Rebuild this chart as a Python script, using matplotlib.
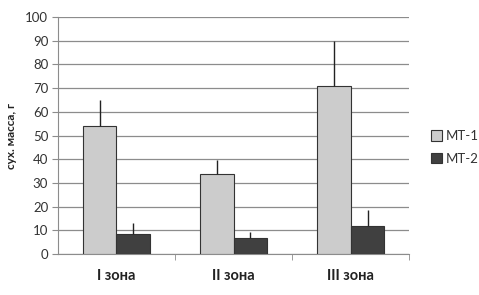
import matplotlib
matplotlib.use("Agg")
import matplotlib.pyplot as plt
import numpy as np

plt.rcParams['font.family'] = ['Lato', 'DejaVu Sans']

categories = ["I зона", "II зона", "III зона"]
series_names = ["МТ-1", "МТ-2"]
mt1 = [54.0, 33.7, 70.8]
mt1_err = [11.0, 6.0, 19.0]
mt2 = [8.4, 6.8, 11.8]
mt2_err = [4.6, 2.5, 6.8]
yticks = list(range(0, 101, 10))

fig = plt.figure(figsize=(4.79, 2.95), dpi=100)
ax = fig.add_axes([0.121, 0.139, 0.733, 0.803])

x = np.arange(len(categories))
w = 0.29
c1, c2 = "#cccccc", "#404040"
ax.bar(x - w/2, mt1, w, color=c1, edgecolor="#333333", linewidth=0.8, label=series_names[0], zorder=3)
ax.bar(x + w/2, mt2, w, color=c2, edgecolor="#333333", linewidth=0.8, label=series_names[1], zorder=3)
ax.errorbar(x - w/2, mt1, yerr=[np.zeros(3), mt1_err], fmt='none', ecolor="#222222", elinewidth=1.0, capsize=0, zorder=4)
ax.errorbar(x + w/2, mt2, yerr=[np.zeros(3), mt2_err], fmt='none', ecolor="#222222", elinewidth=1.0, capsize=0, zorder=4)

ax.set_xlim(-0.5, 2.5)
ax.set_ylim(0, 100)
ax.set_yticks(yticks)
ax.yaxis.grid(True, color="#8c8c8c", linewidth=0.9, zorder=0)
ax.set_axisbelow(True)
for s in ["top", "right"]:
    ax.spines[s].set_visible(False)
ax.spines["left"].set_color("#8c8c8c")
ax.spines["bottom"].set_color("#8c8c8c")
ax.tick_params(axis='y', length=4, color="#8c8c8c", labelsize=9.5, labelcolor="#333333", pad=3)
ax.set_xticks(x)
ax.set_xticklabels(categories, fontsize=10.5, fontweight='bold', color="#222222")
ax.tick_params(axis='x', length=0, pad=11)
ax.set_xticks([0.5, 1.5, 2.5], minor=True)
ax.tick_params(axis='x', which='minor', length=4, color="#8c8c8c")
ax.set_ylabel("сух. масса, г", fontsize=8.5, fontweight='bold', color="#222222", labelpad=6)

leg = ax.legend(loc='center left', bbox_to_anchor=(1.03, 0.45), frameon=False, fontsize=9.5,
                handlelength=0.8, handleheight=0.8, handletextpad=0.3, labelspacing=0.8)
for t in leg.get_texts():
    t.set_color("#333333")

fig.savefig("out.png", dpi=100)
